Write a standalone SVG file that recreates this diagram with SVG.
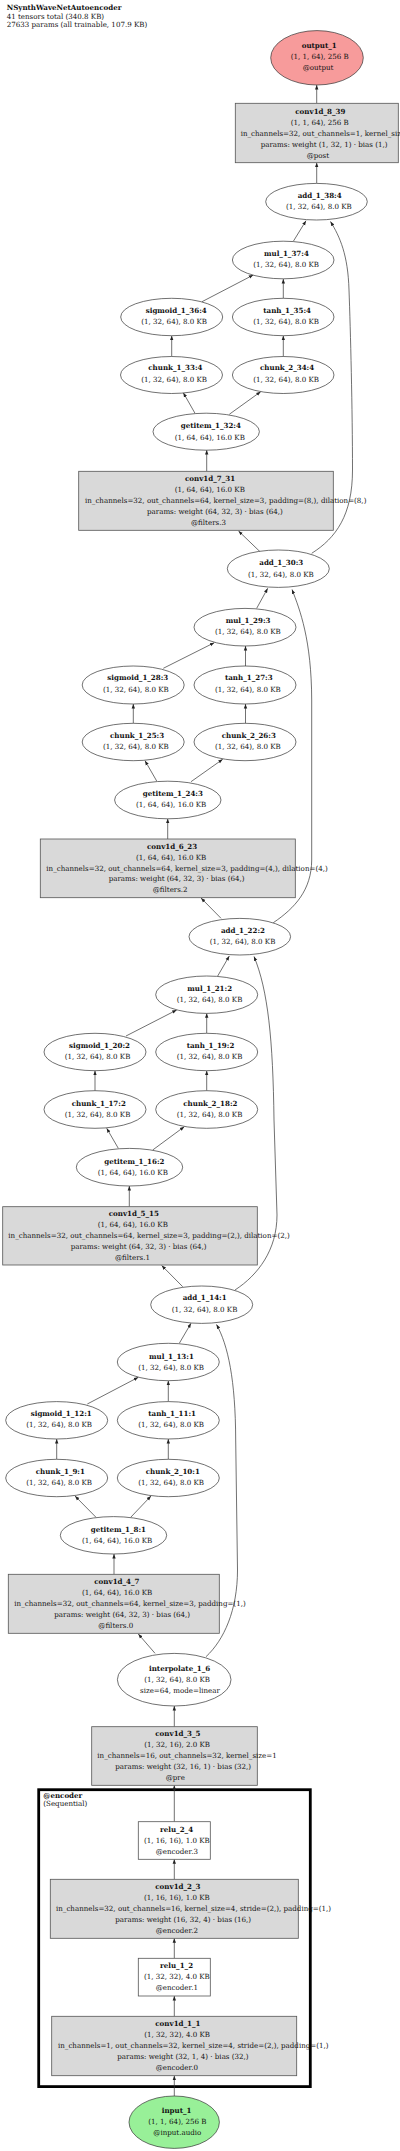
<svg xmlns="http://www.w3.org/2000/svg" width="400" height="2151" viewBox="0 0 400 2151">
<style>
text{font-family:"DejaVu Serif","Liberation Serif",serif;font-size:7.1px;fill:#111}
.b{font-weight:bold}
.box{fill:#d9d9d9;stroke:#555;stroke-width:0.8}
.wbox{fill:#fff;stroke:#555;stroke-width:0.8}
.el{fill:#fff;stroke:#333;stroke-width:0.7}
.e{fill:none;stroke:#333;stroke-width:0.7;marker-end:url(#ah)}
</style>
<defs>
<marker id="ah" markerUnits="userSpaceOnUse" markerWidth="6" markerHeight="6" viewBox="0 -3 6 6" refX="4.5" refY="0" orient="auto"><path d="M0,-1.7 L4.5,0 L0,1.7 z" fill="#222"/></marker>
</defs>
<rect width="400" height="2151" fill="#fff"/>
<g id="title">
<text class="b" x="6.7" y="10">NSynthWaveNetAutoencoder</text>
<text x="6.7" y="18.5">41 tensors total (340.8 KB)</text>
<text x="6.7" y="26.8">27633 params (all trainable, 107.9 KB)</text>
</g>
<g id="cluster_encoder">
<rect x="38.7" y="1789.7" width="271.6" height="296.9" fill="none" stroke="#000" stroke-width="2.8"/>
<text class="b" x="43.3" y="1797.7">@encoder</text>
<text x="43.3" y="1806.3">(Sequential)</text>
</g>
<g id="edges">
<path class="e" d="M316.7,103.3 L316.7,85"/>
<path class="e" d="M316.7,183.3 L316.7,162.7"/>
<path class="e" d="M293.5,241 L306,220.7"/>
<path class="e" d="M202,301.7 L253.3,275"/>
<path class="e" d="M283.3,298.3 L283.3,279"/>
<path class="e" d="M171.7,356.5 L171.7,335.7"/>
<path class="e" d="M283.3,356.5 L283.3,335.7"/>
<path class="e" d="M195,413.3 L183.3,392.7"/>
<path class="e" d="M229.3,414.3 L260.7,391.7"/>
<path class="e" d="M206.7,471.3 L206.7,450"/>
<path class="e" d="M260,551.7 L238.5,531"/>
<path class="e" d="M311.7,553.3 C336,538 352.5,515 352.5,470 C352.5,410 350.5,330 349,290 C348,255 340,237 330.5,221.5"/>
<path class="e" d="M256.7,608.3 L267.7,588.3"/>
<path class="e" d="M163.3,668.3 L214.3,642.7"/>
<path class="e" d="M245.5,666 L245.5,646"/>
<path class="e" d="M133.3,723.3 L133.3,704"/>
<path class="e" d="M245.5,723.3 L245.5,704"/>
<path class="e" d="M156.7,781 L145,760.7"/>
<path class="e" d="M191,781.7 L222.7,759.3"/>
<path class="e" d="M167.7,839 L167.7,818.7"/>
<path class="e" d="M221,918.3 L201,898"/>
<path class="e" d="M273.3,922.7 C295,908 311.5,890 311.7,860 L311.7,700 C311.5,640 300,610 292,589.5"/>
<path class="e" d="M217.7,976 L229.3,956"/>
<path class="e" d="M126,1036 L176.7,1010"/>
<path class="e" d="M206.7,1033.3 L206.7,1013.3"/>
<path class="e" d="M95,1090.7 L95,1070.7"/>
<path class="e" d="M206.7,1090.7 L206.7,1070.7"/>
<path class="e" d="M118.3,1148.3 L106.7,1128.3"/>
<path class="e" d="M152.7,1150 L184.3,1126.7"/>
<path class="e" d="M129.3,1206.7 L129.3,1186"/>
<path class="e" d="M182.7,1286.7 L161.7,1265.5"/>
<path class="e" d="M235,1290 C258,1275 277,1250 277,1215 L274,1120 C273,1040 268,990 254,956.5"/>
<path class="e" d="M179.3,1343.3 L191,1323.3"/>
<path class="e" d="M87.3,1404 L138.3,1377.3"/>
<path class="e" d="M168.3,1401.7 L168.3,1380.7"/>
<path class="e" d="M56.7,1459.3 L56.7,1439"/>
<path class="e" d="M168.3,1459.3 L168.3,1439"/>
<path class="e" d="M96,1517.3 L75,1496"/>
<path class="e" d="M130.7,1517.3 L151,1496"/>
<path class="e" d="M114,1574.3 L114,1554"/>
<path class="e" d="M155,1653.3 L138.3,1634"/>
<path class="e" d="M206,1656.7 C224,1640 237.5,1610 237.5,1570 L235.7,1440 C235.5,1380 228,1345 216.5,1324.5"/>
<path class="e" d="M174.3,1726.7 L174.3,1706"/>
<path class="e" d="M174.3,1821.7 L174.3,1785.3"/>
<path class="e" d="M174.3,1879.3 L174.3,1859.3"/>
<path class="e" d="M174.3,1958.3 L174.3,1938.3"/>
<path class="e" d="M174.3,2016.3 L174.3,1996"/>
<path class="e" d="M174.3,2096 L174.3,2075.7"/>
</g>
<g id="output_1">
<ellipse cx="317" cy="57.8" rx="46.3" ry="27.2" fill="#f79b9b" stroke="#333" stroke-width="0.7"/>
<text class="b" x="301.7" y="48.3">output_1</text>
<text x="290.7" y="59.3">(1, 1, 64), 256 B</text>
<text x="302.7" y="70.3">@output</text>
</g>
<g id="conv1d_8_39">
<rect class="box" x="235.3" y="103.3" width="163" height="59.4"/>
<text class="b" x="295.3" y="114">conv1d_8_39</text>
<text x="290.7" y="125">(1, 1, 64), 256 B</text>
<text x="240.7" y="136">in_channels=32, out_channels=1, kernel_size=1</text>
<text x="260.7" y="146.8">params: weight (1, 32, 1) · bias (1,)</text>
<text x="306.7" y="157.6">@post</text>
</g>
<g id="add_1_38_4">
<ellipse class="el" cx="316.5" cy="201.7" rx="50.8" ry="18.3"/>
<text class="b" x="297.7" y="197.5">add_1_38:4</text>
<text x="286" y="208.5">(1, 32, 64), 8.0 KB</text>
</g>
<g id="mul_1_37_4">
<ellipse class="el" cx="283.2" cy="260" rx="50.8" ry="18.8"/>
<text class="b" x="264" y="255.5">mul_1_37:4</text>
<text x="253.3" y="266.5">(1, 32, 64), 8.0 KB</text>
</g>
<g id="sigmoid_1_36_4">
<ellipse class="el" cx="171.7" cy="317" rx="51" ry="18.7"/>
<text class="b" x="145.7" y="312.5">sigmoid_1_36:4</text>
<text x="141.3" y="324">(1, 32, 64), 8.0 KB</text>
</g>
<g id="tanh_1_35_4">
<ellipse class="el" cx="283.2" cy="317" rx="50.8" ry="18.7"/>
<text class="b" x="263.3" y="312.5">tanh_1_35:4</text>
<text x="253.3" y="324">(1, 32, 64), 8.0 KB</text>
</g>
<g id="chunk_1_33_4">
<ellipse class="el" cx="171.5" cy="375" rx="51" ry="18.5"/>
<text class="b" x="148.3" y="370">chunk_1_33:4</text>
<text x="141.3" y="381.5">(1, 32, 64), 8.0 KB</text>
</g>
<g id="chunk_2_34_4">
<ellipse class="el" cx="283.2" cy="375" rx="50.8" ry="18.5"/>
<text class="b" x="260" y="370">chunk_2_34:4</text>
<text x="253.3" y="381.5">(1, 32, 64), 8.0 KB</text>
</g>
<g id="getitem_1_32_4">
<ellipse class="el" cx="206.2" cy="431.7" rx="53.2" ry="18.5"/>
<text class="b" x="180.7" y="428.2">getitem_1_32:4</text>
<text x="174.7" y="439.5">(1, 64, 64), 16.0 KB</text>
</g>
<g id="conv1d_7_31">
<rect class="box" x="78.7" y="471.3" width="254.6" height="59"/>
<text class="b" x="185" y="481">conv1d_7_31</text>
<text x="174.7" y="492">(1, 64, 64), 16.0 KB</text>
<text x="85" y="503">in_channels=32, out_channels=64, kernel_size=3, padding=(8,), dilation=(8,)</text>
<text x="147" y="513.8">params: weight (64, 32, 3) · bias (64,)</text>
<text x="191" y="524.7">@filters.3</text>
</g>
<g id="add_1_30_3">
<ellipse class="el" cx="278.3" cy="568.7" rx="51" ry="18.7"/>
<text class="b" x="259.3" y="565.2">add_1_30:3</text>
<text x="248" y="576.5">(1, 32, 64), 8.0 KB</text>
</g>
<g id="mul_1_29_3">
<ellipse class="el" cx="245" cy="627.2" rx="51" ry="18.8"/>
<text class="b" x="225.7" y="622.5">mul_1_29:3</text>
<text x="215" y="634">(1, 32, 64), 8.0 KB</text>
</g>
<g id="sigmoid_1_28_3">
<ellipse class="el" cx="133.2" cy="685" rx="51" ry="19"/>
<text class="b" x="107.3" y="680.2">sigmoid_1_28:3</text>
<text x="103" y="691.5">(1, 32, 64), 8.0 KB</text>
</g>
<g id="tanh_1_27_3">
<ellipse class="el" cx="245" cy="685" rx="51" ry="19"/>
<text class="b" x="225" y="680.2">tanh_1_27:3</text>
<text x="215" y="691.5">(1, 32, 64), 8.0 KB</text>
</g>
<g id="chunk_1_25_3">
<ellipse class="el" cx="133.2" cy="742" rx="51" ry="18.7"/>
<text class="b" x="110" y="738.2">chunk_1_25:3</text>
<text x="103" y="749.2">(1, 32, 64), 8.0 KB</text>
</g>
<g id="chunk_2_26_3">
<ellipse class="el" cx="245" cy="742" rx="51" ry="18.7"/>
<text class="b" x="221.7" y="738.2">chunk_2_26:3</text>
<text x="215" y="749.2">(1, 32, 64), 8.0 KB</text>
</g>
<g id="getitem_1_24_3">
<ellipse class="el" cx="167.8" cy="800" rx="53.2" ry="18.8"/>
<text class="b" x="142.7" y="796">getitem_1_24:3</text>
<text x="136" y="807.2">(1, 64, 64), 16.0 KB</text>
</g>
<g id="conv1d_6_23">
<rect class="box" x="40.3" y="839" width="255" height="58.7"/>
<text class="b" x="147" y="848.5">conv1d_6_23</text>
<text x="136" y="859.5">(1, 64, 64), 16.0 KB</text>
<text x="46.3" y="870.5">in_channels=32, out_channels=64, kernel_size=3, padding=(4,), dilation=(4,)</text>
<text x="108.7" y="881.3">params: weight (64, 32, 3) · bias (64,)</text>
<text x="152.7" y="892.2">@filters.2</text>
</g>
<g id="add_1_22_2">
<ellipse class="el" cx="239.8" cy="936.7" rx="50.8" ry="18.3"/>
<text class="b" x="221" y="932.5">add_1_22:2</text>
<text x="209.7" y="944">(1, 32, 64), 8.0 KB</text>
</g>
<g id="mul_1_21_2">
<ellipse class="el" cx="206.7" cy="994.7" rx="51" ry="18.7"/>
<text class="b" x="187.3" y="990.8">mul_1_21:2</text>
<text x="176.7" y="1001.8">(1, 32, 64), 8.0 KB</text>
</g>
<g id="sigmoid_1_20_2">
<ellipse class="el" cx="95" cy="1052" rx="51" ry="18.7"/>
<text class="b" x="69" y="1048.2">sigmoid_1_20:2</text>
<text x="64.7" y="1059.2">(1, 32, 64), 8.0 KB</text>
</g>
<g id="tanh_1_19_2">
<ellipse class="el" cx="206.7" cy="1052" rx="51" ry="18.7"/>
<text class="b" x="186.7" y="1048.2">tanh_1_19:2</text>
<text x="176.7" y="1059.2">(1, 32, 64), 8.0 KB</text>
</g>
<g id="chunk_1_17_2">
<ellipse class="el" cx="95" cy="1109.5" rx="51" ry="18.8"/>
<text class="b" x="71.7" y="1106">chunk_1_17:2</text>
<text x="64.7" y="1117.2">(1, 32, 64), 8.0 KB</text>
</g>
<g id="chunk_2_18_2">
<ellipse class="el" cx="206.7" cy="1109.5" rx="51" ry="18.8"/>
<text class="b" x="183.3" y="1106">chunk_2_18:2</text>
<text x="176.7" y="1117.2">(1, 32, 64), 8.0 KB</text>
</g>
<g id="getitem_1_16_2">
<ellipse class="el" cx="129.5" cy="1167.2" rx="53.2" ry="18.8"/>
<text class="b" x="104.3" y="1163.5">getitem_1_16:2</text>
<text x="97.7" y="1174.8">(1, 64, 64), 16.0 KB</text>
</g>
<g id="conv1d_5_15">
<rect class="box" x="2.7" y="1206.7" width="254.6" height="58.3"/>
<text class="b" x="108.7" y="1216">conv1d_5_15</text>
<text x="97.7" y="1227">(1, 64, 64), 16.0 KB</text>
<text x="8.3" y="1238">in_channels=32, out_channels=64, kernel_size=3, padding=(2,), dilation=(2,)</text>
<text x="70.7" y="1248.8">params: weight (64, 32, 3) · bias (64,)</text>
<text x="115" y="1259.5">@filters.1</text>
</g>
<g id="add_1_14_1">
<ellipse class="el" cx="201.7" cy="1304.7" rx="51" ry="18.7"/>
<text class="b" x="182.7" y="1300.2">add_1_14:1</text>
<text x="171.7" y="1311.5">(1, 32, 64), 8.0 KB</text>
</g>
<g id="mul_1_13_1">
<ellipse class="el" cx="168.3" cy="1362" rx="51" ry="18.7"/>
<text class="b" x="149" y="1358.5">mul_1_13:1</text>
<text x="138.3" y="1369.8">(1, 32, 64), 8.0 KB</text>
</g>
<g id="sigmoid_1_12_1">
<ellipse class="el" cx="56.7" cy="1420.3" rx="51" ry="18.7"/>
<text class="b" x="30.7" y="1415.8">sigmoid_1_12:1</text>
<text x="26.3" y="1427.2">(1, 32, 64), 8.0 KB</text>
</g>
<g id="tanh_1_11_1">
<ellipse class="el" cx="168.3" cy="1420.3" rx="51" ry="18.7"/>
<text class="b" x="148.3" y="1415.8">tanh_1_11:1</text>
<text x="138.3" y="1427.2">(1, 32, 64), 8.0 KB</text>
</g>
<g id="chunk_1_9_1">
<ellipse class="el" cx="56.7" cy="1478" rx="51" ry="18.7"/>
<text class="b" x="35.7" y="1473.5">chunk_1_9:1</text>
<text x="26.3" y="1485">(1, 32, 64), 8.0 KB</text>
</g>
<g id="chunk_2_10_1">
<ellipse class="el" cx="168.3" cy="1478" rx="51" ry="18.7"/>
<text class="b" x="145.7" y="1473.5">chunk_2_10:1</text>
<text x="138.3" y="1485">(1, 32, 64), 8.0 KB</text>
</g>
<g id="getitem_1_8_1">
<ellipse class="el" cx="113.5" cy="1535.3" rx="53.2" ry="18.7"/>
<text class="b" x="90.7" y="1531.8">getitem_1_8:1</text>
<text x="82" y="1542.5">(1, 64, 64), 16.0 KB</text>
</g>
<g id="conv1d_4_7">
<rect class="box" x="8.3" y="1574.3" width="211" height="59"/>
<text class="b" x="94.3" y="1584">conv1d_4_7</text>
<text x="82" y="1595">(1, 64, 64), 16.0 KB</text>
<text x="14.3" y="1606">in_channels=32, out_channels=64, kernel_size=3, padding=(1,)</text>
<text x="54.3" y="1616.8">params: weight (64, 32, 3) · bias (64,)</text>
<text x="98.3" y="1627.7">@filters.0</text>
</g>
<g id="interpolate_1_6">
<ellipse class="el" cx="174.2" cy="1679.7" rx="56.8" ry="26.3"/>
<text class="b" x="149" y="1671">interpolate_1_6</text>
<text x="144.3" y="1682">(1, 32, 64), 8.0 KB</text>
<text x="140" y="1693">size=64, mode=linear</text>
</g>
<g id="conv1d_3_5">
<rect class="box" x="91.7" y="1726.7" width="165.6" height="58.6"/>
<text class="b" x="155.3" y="1736">conv1d_3_5</text>
<text x="144.3" y="1747">(1, 32, 16), 2.0 KB</text>
<text x="97.3" y="1758">in_channels=16, out_channels=32, kernel_size=1</text>
<text x="115.3" y="1768.8">params: weight (32, 16, 1) · bias (32,)</text>
<text x="165.7" y="1779.7">@pre</text>
</g>
<g id="relu_2_4">
<rect class="wbox" x="138.3" y="1821.7" width="72" height="37.6"/>
<text class="b" x="160" y="1831.5">relu_2_4</text>
<text x="144" y="1842.5">(1, 16, 16), 1.0 KB</text>
<text x="155.7" y="1853.6">@encoder.3</text>
</g>
<g id="conv1d_2_3">
<rect class="box" x="50.3" y="1879.3" width="248" height="59"/>
<text class="b" x="155.3" y="1889">conv1d_2_3</text>
<text x="144" y="1900">(1, 16, 16), 1.0 KB</text>
<text x="56" y="1911">in_channels=32, out_channels=16, kernel_size=4, stride=(2,), padding=(1,)</text>
<text x="115.3" y="1921.8">params: weight (16, 32, 4) · bias (16,)</text>
<text x="155.7" y="1932.8">@encoder.2</text>
</g>
<g id="relu_1_2">
<rect class="wbox" x="138.3" y="1958.3" width="72" height="37.7"/>
<text class="b" x="160" y="1968.3">relu_1_2</text>
<text x="144" y="1979.3">(1, 32, 32), 4.0 KB</text>
<text x="155.7" y="1990">@encoder.1</text>
</g>
<g id="conv1d_1_1">
<rect class="box" x="51.7" y="2016.3" width="245" height="59.4"/>
<text class="b" x="155.3" y="2026">conv1d_1_1</text>
<text x="144.3" y="2037">(1, 32, 32), 4.0 KB</text>
<text x="58" y="2048">in_channels=1, out_channels=32, kernel_size=4, stride=(2,), padding=(1,)</text>
<text x="117.3" y="2058.8">params: weight (32, 1, 4) · bias (32,)</text>
<text x="155.7" y="2069.8">@encoder.0</text>
</g>
<g id="input_1">
<ellipse cx="174.2" cy="2122.2" rx="45.2" ry="26.2" fill="#98f098" stroke="#333" stroke-width="0.7"/>
<text class="b" x="161.7" y="2112.5">input_1</text>
<text x="148.3" y="2123.8">(1, 1, 64), 256 B</text>
<text x="153.3" y="2134.8">@input.audio</text>
</g>
</svg>
